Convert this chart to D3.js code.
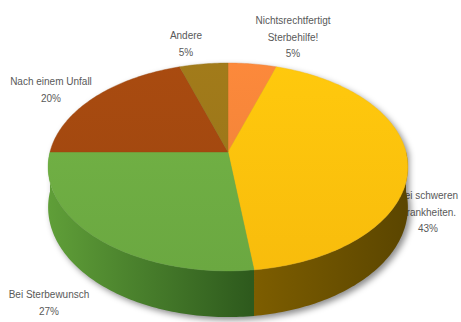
<!DOCTYPE html>
<html>
<head>
<meta charset="utf-8">
<script src="https://cdn.jsdelivr.net/npm/d3@7/dist/d3.min.js"></script>
<style>
  html, body { margin: 0; padding: 0; background: #ffffff; }
  svg { display: block; }
</style>
</head>
<body>
<svg id="chart" width="461" height="322"></svg>
<script>
// ---- data ----
const categories = ["Nichtsrechtfertigt Sterbehilfe!", "Bei schweren Krankheiten.", "Bei Sterbewunsch", "Nach einem Unfall", "Andere"];
const labelLines = [["Nichtsrechtfertigt", "Sterbehilfe!"], ["Bei schweren", "Krankheiten."], ["Bei Sterbewunsch"], ["Nach einem Unfall"], ["Andere"]];
const values = [5, 43, 27, 20, 5];
const percentLabels = ["5%", "43%", "27%", "20%", "5%"];

// ---- styling / layout ----
const topColors = ["#EF8238", "#FCBF0C", "#6DAB42", "#A0470F", "#9A7519"];
const sideColors = [["#9a4a15", "#7a3a10"], ["#7e5e00", "#5a4500"], ["#5f9e38", "#2e5a1d"], ["#6a2f08", "#552606"], ["#6a5010", "#55400c"]];
const labelPos = [[293, 24], [428, 199], [49, 298], [51, 85], [186, 39]];

const svg = d3.select("#chart");
const W = 461, H = 322;
const cx = 228, cy = 152, A = 178, B = 101.8, p = 0.144, T = 39.5;

function proj(theta, z) {
  const X = Math.sin(theta), Y = Math.cos(theta);
  const s = 1 / (1 + p * Y);
  return [cx + A * X * s, cy - B * Y * s + z * T * s];
}

const pie = d3.pie().sort(null).value(d => d).startAngle(0).endAngle(2 * Math.PI);
const arcs = pie(values);

function arcPoints(a0, a1, z) {
  const n = Math.max(2, Math.ceil(Math.abs(a1 - a0) / (Math.PI / 180)));
  const pts = [];
  for (let i = 0; i <= n; i++) pts.push(proj(a0 + (a1 - a0) * i / n, z));
  return pts;
}

const defs = svg.append("defs");
defs.append("filter").attr("id", "shadow").attr("x", "-20%").attr("y", "-20%").attr("width", "140%").attr("height", "140%")
  .append("feGaussianBlur").attr("stdDeviation", 3);

sideColors.forEach((c, i) => {
  const g = defs.append("linearGradient").attr("id", "side" + i)
    .attr("gradientUnits", "userSpaceOnUse");
  if (i === 1) { g.attr("x1", 250).attr("x2", 410); }
  else { g.attr("x1", 50).attr("x2", 250); }
  g.attr("y1", 0).attr("y2", 0);
  g.append("stop").attr("offset", "0%").attr("stop-color", c[0]);
  g.append("stop").attr("offset", "100%").attr("stop-color", c[1]);
});
topColors.forEach((c, i) => {
  const g = defs.append("linearGradient").attr("id", "top" + i)
    .attr("gradientUnits", "userSpaceOnUse").attr("x1", 0).attr("x2", 0).attr("y1", 63).attr("y2", 272);
  g.append("stop").attr("offset", "0%").attr("stop-color", d3.color(c).brighter(0.15));
  g.append("stop").attr("offset", "100%").attr("stop-color", d3.color(c).darker(0.05));
});

// ---- labels (drawn first; the pie overlaps one of them) ----
const lbl = svg.append("g")
  .attr("font-family", "'Liberation Sans', Arial, sans-serif")
  .attr("font-size", 10).attr("fill", "#595959").attr("text-anchor", "middle");
arcs.forEach((d, i) => {
  const lines = labelLines[i].concat([percentLabels[i]]);
  const t = lbl.append("text").attr("x", labelPos[i][0]).attr("y", labelPos[i][1]);
  lines.forEach((ln, k) => {
    t.append("tspan").attr("x", labelPos[i][0]).attr("dy", k === 0 ? 0 : 16.5).text(ln);
  });
});

const line = d3.line();

// ---- shadow ----
const sil = arcPoints(Math.PI / 2, 3 * Math.PI / 2, 1).concat(arcPoints(3 * Math.PI / 2, 2.5 * Math.PI, 0));
svg.append("path").attr("d", line(sil.map(q => [q[0] + 3, q[1] + 3])) + "Z")
  .attr("fill", "rgba(0,0,0,0.45)").attr("filter", "url(#shadow)");

// ---- sides ----
const vis0 = Math.PI / 2, vis1 = 3 * Math.PI / 2;
arcs.forEach((d, i) => {
  const a0 = Math.max(d.startAngle, vis0), a1 = Math.min(d.endAngle, vis1);
  if (a1 <= a0) return;
  const pts = arcPoints(a0, a1, 0).concat(arcPoints(a1, a0, 1));
  svg.append("path").attr("d", line(pts) + "Z").attr("fill", `url(#side${i})`);
});

// ---- top faces ----
arcs.forEach((d, i) => {
  const pts = [[cx, cy]].concat(arcPoints(d.startAngle, d.endAngle, 0));
  svg.append("path").attr("d", line(pts) + "Z").attr("fill", `url(#top${i})`)
    .attr("stroke", d3.color(topColors[i]).darker(0.05)).attr("stroke-width", 0.4);
});
</script>
</body>
</html>
